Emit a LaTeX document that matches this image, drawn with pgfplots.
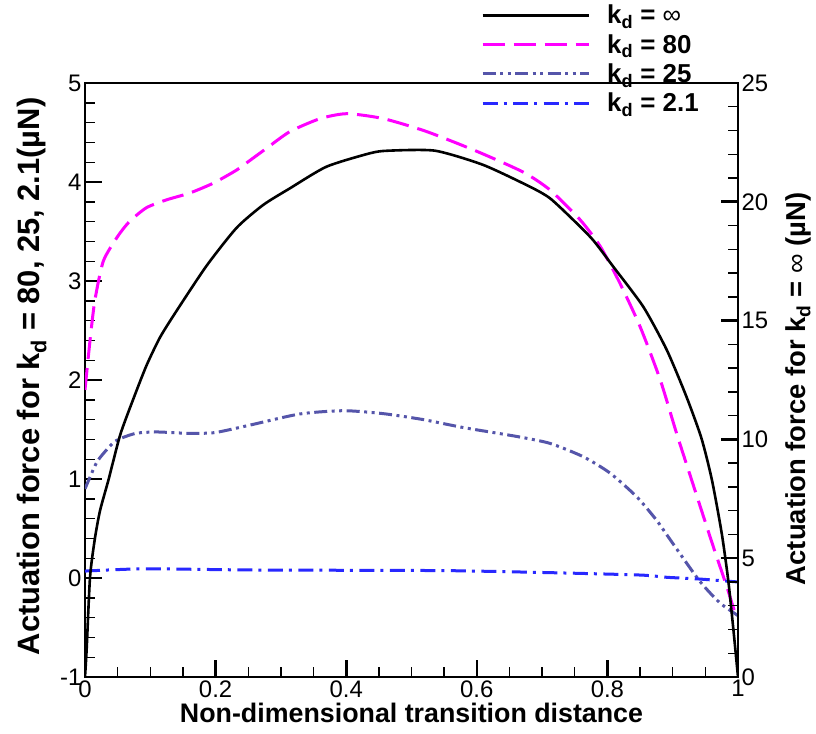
\documentclass[border=0pt]{standalone}
\usepackage{pgfplots}
\pgfplotsset{compat=1.18}
\usepackage{fontspec}
\setmainfont{Liberation Sans}
\definecolor{kmag}{RGB}{255,0,255}
\definecolor{kpur}{RGB}{85,85,170}
\definecolor{kblu}{RGB}{40,40,255}
\pgfplotsset{
  common/.style={
    width=653bp,height=594bp,scale only axis,
    xmin=0,xmax=1,
    axis line style={line width=2.8bp},
    major tick length=17bp, minor tick length=10bp,
    major tick style={line width=2.6bp,black},
    minor tick style={line width=1.4bp,black},
    tick label style={font=\fontsize{24}{28}\selectfont},
    label style={font=\fontsize{26.9}{30}\selectfont\bfseries},
  },
  sinf/.style={black,line width=2.6bp,smooth,tension=0.4},
  s80/.style={kmag,line width=3bp,dash pattern=on 22bp off 9bp,smooth,tension=0.4},
  s25/.style={kpur,line width=3bp,dash pattern=on 13bp off 4.5bp on 3bp off 4.5bp on 3bp off 4.5bp,smooth,tension=0.4},
  s21/.style={kblu,line width=3bp,dash pattern=on 15bp off 6bp on 3bp off 6.5bp,smooth,tension=0.4},
}
\begin{document}
\begin{tikzpicture}
\path[use as bounding box] (-85bp,-57bp) rectangle (731bp,677bp);
\begin{axis}[common,
  ymin=-1,ymax=5,
  xtick={0,0.2,0.4,0.6,0.8,1}, xticklabels={0,0.2,0.4,0.6,0.8,1},
  ytick={-1,0,1,2,3,4,5}, yticklabels={-1,0,1,2,3,4,5},
  minor x tick num=3, minor y tick num=4,
  xtick pos=bottom, ytick pos=left,
  xlabel={Non-dimensional transition distance},
  xlabel style={at={(axis description cs:0.5,0)},anchor=base,yshift=-45bp},
  ylabel={Actuation force for k\textsubscript{d} = 80, 25, 2.1(\textmu N)},
  ylabel style={at={(axis description cs:-0.070,0.506)},anchor=base,rotate=0,
    font=\fontsize{31}{34}\selectfont\bfseries},
]
\addplot[s80] coordinates {
(0,1.9) (0.0077,2.4) (0.015,2.8) (0.028,3.2) (0.05,3.45) (0.068,3.6) (0.094,3.74)
(0.125,3.82) (0.161,3.89) (0.197,3.99) (0.232,4.12) (0.253,4.22) (0.28,4.35) (0.314,4.51)
(0.36,4.64) (0.401,4.69) (0.457,4.64) (0.523,4.51) (0.60,4.31) (0.671,4.10) (0.712,3.92)
(0.758,3.62) (0.789,3.35) (0.819,2.98) (0.850,2.54) (0.881,2.0) (0.906,1.46) (0.929,0.99)
(0.962,0.32) (0.983,-0.09) (0.994,-0.32) (1.0,-0.38)};
\addplot[s25] coordinates {
(0,0.9) (0.0077,1.02) (0.02,1.19) (0.046,1.38) (0.077,1.46) (0.107,1.475) (0.13,1.47)
(0.163,1.46) (0.2,1.47) (0.253,1.545) (0.329,1.657) (0.396,1.69) (0.457,1.66) (0.518,1.60)
(0.579,1.52) (0.661,1.43) (0.712,1.36) (0.763,1.225) (0.804,1.06) (0.845,0.82) (0.875,0.586)
(0.893,0.417) (0.94,-0.02) (0.972,-0.25) (1.0,-0.38)};
\addplot[s21] coordinates {
(0,0.07) (0.05,0.085) (0.1,0.093) (0.253,0.081) (0.4,0.078) (0.559,0.074) (0.712,0.054)
(0.85,0.03) (0.891,0.007) (0.94,-0.01) (1.0,-0.04)};
\end{axis}
\begin{axis}[common,
  ymin=0,ymax=25,
  axis x line=none, axis y line*=right,
  ytick={0,5,10,15,20,25}, yticklabels={0,5,10,15,20,25},
  minor y tick num=4,
  ylabel={Actuation force for k\textsubscript{d} = {\mdseries ∞} (\textmu N)},
  ylabel style={at={(axis description cs:1.1026,0.485)},anchor=base,rotate=0,
    font=\fontsize{27.5}{31}\selectfont\bfseries},
  legend style={at={(axis description cs:0.6064,1.133)},anchor=north west,draw=none,fill=none,
    font=\fontsize{26}{30}\selectfont\bfseries, row sep=7bp, inner sep=0pt,
    nodes={inner sep=1bp}},
  legend cell align=left,
  legend image code/.code={\draw[#1] (0bp,0bp) -- (106bp,0bp);},
  /tikz/every odd column/.append style={column sep=16bp},
]
\addplot[sinf] coordinates {
(0,0) (0.0025,1.15) (0.0077,4.2) (0.015,5.8) (0.023,7.0) (0.036,8.3) (0.054,10.2)
(0.074,11.7) (0.094,13.1) (0.115,14.3) (0.14,15.4) (0.186,17.3) (0.232,18.9) (0.273,19.87)
(0.314,20.57) (0.37,21.48) (0.436,22.04) (0.464,22.15) (0.536,22.15) (0.61,21.55)
(0.681,20.64) (0.712,20.15) (0.748,19.23) (0.778,18.39) (0.809,17.27) (0.855,15.58)
(0.891,13.76) (0.921,11.8) (0.944,10.05) (0.96,8.3) (0.975,6.06) (0.985,4.08) (0.993,1.98) (1.0,0)};
\addlegendentry{k\textsubscript{d} = {\mdseries ∞}}
\addlegendimage{s80}
\addlegendentry{k\textsubscript{d} = 80}
\addlegendimage{s25}
\addlegendentry{k\textsubscript{d} = 25}
\addlegendimage{s21}
\addlegendentry{k\textsubscript{d} = 2.1}
\end{axis}
\end{tikzpicture}
\end{document}
